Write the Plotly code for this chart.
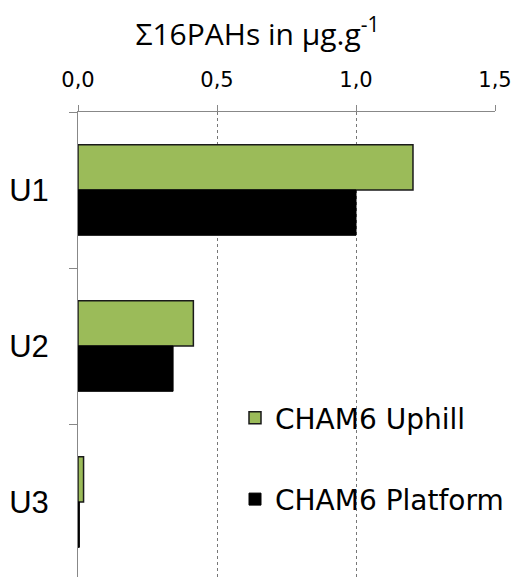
import plotly.graph_objects as go

categories = ["U1", "U2", "U3"]
uphill = [1.205, 0.415, 0.02]
platform = [1.0, 0.342, 0.005]
series_names = ["CHAM6 Uphill", "CHAM6 Platform"]
tick_vals = [0.0, 0.5, 1.0, 1.5]

fig = go.Figure()
fig.add_trace(go.Bar(y=categories, x=uphill, orientation="h", name=series_names[0],
                     legendgroup="a",
                     marker=dict(color="#9bbb59", line=dict(color="#1a1a1a", width=1.5))))
fig.add_trace(go.Bar(y=categories, x=platform, orientation="h", name=series_names[1],
                     legendgroup="b",
                     marker=dict(color="#000000", line=dict(color="#000000", width=1))))

fig.update_layout(
    width=515, height=577,
    margin=dict(l=78, r=20, t=112, b=0, autoexpand=False),
    paper_bgcolor="white", plot_bgcolor="white",
    separators=",.",
    barmode="group", bargap=0.42, bargroupgap=0,
    title=dict(text="Σ16PAHs in μg.g<sup>-1</sup>", x=0.5, xanchor="center",
               y=1 - 34 / 577, yanchor="middle",
               font=dict(family="Open Sans", size=30, color="black")),
    xaxis=dict(side="top", range=[0, 1.5], tickvals=tick_vals, tickformat=".1f",
               showgrid=True, gridcolor="#777777", griddash="dot", gridwidth=1,
               showline=True, linecolor="#888888", linewidth=1,
               ticks="outside", ticklen=6, tickcolor="#888888",
               tickfont=dict(family="DejaVu Sans", size=21, color="black"),
               ticklabelstandoff=10, automargin=False, zeroline=False),
    yaxis=dict(range=[2.48, -0.5], showline=True, linecolor="#888888", linewidth=1,
               ticks="outside", tickson="boundaries", ticklen=8, tickcolor="#888888",
               tickfont=dict(family="Liberation Sans Narrow, Liberation Sans", size=31, color="black"),
               showgrid=False, ticklabelstandoff=22, automargin=False),
    showlegend=True,
    legend=dict(x=0.3765, y=0.3957, xanchor="left", yanchor="top",
                font=dict(family="DejaVu Sans", size=28, color="black"),
                tracegroupgap=42, traceorder="grouped",
                bgcolor="rgba(0,0,0,0)"),
)

fig.write_html("out.html", config={"displayModeBar": False},
               post_script="document.body.style.margin='0px';document.documentElement.style.overflow='hidden';")
